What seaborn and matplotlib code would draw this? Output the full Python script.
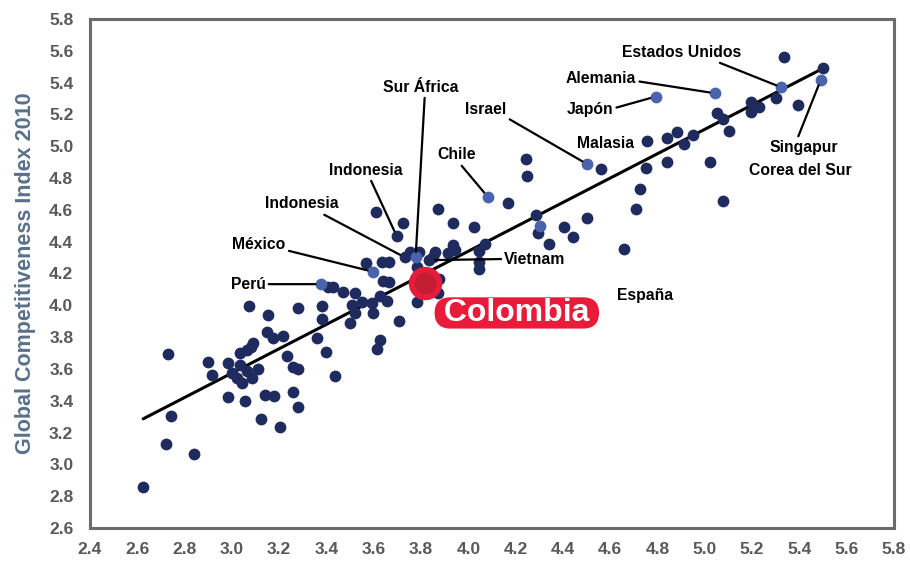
import seaborn as sns
import matplotlib.pyplot as plt
import pandas as pd
import numpy as np

# Dark points (countries without a highlighted marker)
dark_x = [2.625, 2.720, 2.742, 2.731, 2.841, 2.898, 2.917, 2.982, 2.982, 2.999,
          3.020, 3.041, 3.034, 3.063, 3.084, 3.112, 3.034, 3.063, 3.079, 3.091,
          3.055, 3.123, 3.140, 3.178, 3.203, 3.260, 3.278, 3.232, 3.260, 3.278,
          3.147, 3.175, 3.215, 3.151, 3.074, 3.281, 3.380, 3.380, 3.361, 3.398,
          3.436, 3.408, 3.429, 3.468, 3.521, 3.506, 3.549, 3.521, 3.591, 3.626,
          3.654, 3.595, 3.499, 3.708, 3.626, 3.615, 3.638, 3.666, 3.567, 3.633,
          3.666, 3.781, 3.870, 3.874, 4.046, 3.608, 3.722, 3.873, 3.937, 4.025,
          3.753, 3.791, 3.859, 3.852, 3.784, 3.937, 3.943, 3.915, 4.070, 4.046,
          4.046, 4.166, 4.242, 4.246, 4.286, 4.295, 4.341, 4.406, 4.441, 4.503,
          4.563, 4.658, 4.709, 4.728, 4.751, 4.757, 4.838, 4.838, 4.883, 4.913,
          4.951, 5.022, 5.078, 5.050, 5.075, 5.104, 5.197, 5.230, 5.197, 5.299,
          5.392, 5.334, 5.501]
dark_y = [2.855, 3.131, 3.305, 3.697, 3.064, 3.641, 3.561, 3.635, 3.425, 3.572,
          3.540, 3.513, 3.624, 3.586, 3.546, 3.599, 3.701, 3.718, 3.739, 3.760,
          3.400, 3.284, 3.435, 3.429, 3.236, 3.452, 3.362, 3.682, 3.613, 3.599,
          3.833, 3.792, 3.806, 3.938, 3.995, 3.985, 3.995, 3.911, 3.796, 3.706,
          3.555, 4.117, 4.117, 4.081, 4.075, 4.001, 4.018, 3.949, 4.012, 4.058,
          4.028, 3.949, 3.886, 3.903, 3.781, 3.725, 4.154, 4.148, 4.263, 4.270,
          4.270, 4.022, 4.075, 4.166, 4.226, 4.584, 4.515, 4.605, 4.515, 4.490,
          4.336, 4.336, 4.336, 4.301, 4.242, 4.378, 4.347, 4.326, 4.385, 4.341,
          4.274, 4.645, 4.919, 4.813, 4.567, 4.452, 4.383, 4.494, 4.427, 4.550,
          4.854, 4.352, 4.605, 4.731, 4.865, 5.035, 5.050, 4.899, 5.091, 5.012,
          5.070, 4.899, 4.657, 5.207, 5.171, 5.098, 5.280, 5.248, 5.217, 5.301,
          5.259, 5.559, 5.490]

# Dark points that carry a label
tagged_names = ["Indonesia", "Indonesia", "Vietnam"]
tagged_x = [3.697, 3.732, 3.835]
tagged_y = [4.435, 4.301, 4.284]

# Highlighted (light blue) points
light_names = ["Perú", "México", "Sur África", "Chile", "España", "Israel",
               "Japón", "Alemania", "Estados Unidos", "Singapur"]
light_x = [3.377, 3.597, 3.777, 4.082, 4.303, 4.503, 4.792, 5.043, 5.324, 5.490]
light_y = [4.133, 4.211, 4.301, 4.682, 4.496, 4.887, 5.312, 5.333, 5.370, 5.416]

colombia_x = [3.817]
colombia_y = [4.138]

x_ticks = np.arange(2.4, 5.81, 0.2)
y_ticks = np.arange(2.6, 5.81, 0.2)

NAVY = "#1f2b5e"
LIGHT = "#4a63ad"
RED = "#e81c3a"
GRAY = "#6b6b6b"

sns.set_style("white")
plt.rcParams["font.family"] = ["Liberation Sans", "DejaVu Sans"]
plt.rcParams["font.weight"] = "bold"
plt.rcParams["text.color"] = "black"

dark = pd.DataFrame({"x": dark_x + tagged_x, "y": dark_y + tagged_y})
light = pd.DataFrame({"name": light_names, "x": light_x, "y": light_y})
colombia = pd.DataFrame({"x": colombia_x, "y": colombia_y})
everything = pd.concat([dark, light[["x", "y"]], colombia], ignore_index=True)

fig = plt.figure(figsize=(9.1, 5.67), dpi=100)
ax = fig.add_axes([0.0989, 0.0688, 0.8835, 0.8977])

sns.regplot(x="x", y="y", data=everything, scatter=False, ci=None, truncate=True,
            line_kws={"color": "black", "lw": 2.2, "zorder": 2}, ax=ax)
sns.scatterplot(x="x", y="y", data=dark, color=NAVY, s=72, linewidth=0, zorder=3, ax=ax)
sns.scatterplot(x="x", y="y", data=light, color=LIGHT, s=72, linewidth=0, zorder=4, ax=ax)
sns.scatterplot(x="x", y="y", data=colombia, color=RED, s=580, linewidth=0, zorder=6, ax=ax)
sns.scatterplot(x="x", y="y", data=colombia, color="#c41d33", s=250, linewidth=0, zorder=7, ax=ax)

lp = dict(zip(light_names, zip(light_x, light_y)))
tp = list(zip(tagged_x, tagged_y))

# text, target point, text position, relpos of leader start
labels = [
    ("Estados Unidos", lp["Estados Unidos"], (4.903, 5.592), (0.75, 0.0)),
    ("Alemania", lp["Alemania"], (4.561, 5.429), (1.0, 0.3)),
    ("Japón", lp["Japón"], (4.514, 5.228), (1.0, 0.6)),
    ("Israel", lp["Israel"], (4.074, 5.228), (1.0, 0.0)),
    ("Singapur", lp["Singapur"], (5.419, 4.995), (0.4, 1.0)),
    ("Chile", lp["Chile"], (3.952, 4.945), (0.55, 0.0)),
    ("Sur África", lp["Sur África"], (3.800, 5.372), (0.55, 0.0)),
    ("Indonesia", tp[0], (3.567, 4.850), (0.55, 0.0)),
    ("Indonesia", tp[1], (3.296, 4.637), (0.72, 0.0)),
    ("México", lp["México"], (3.115, 4.385), (1.0, 0.1)),
    ("Perú", lp["Perú"], (3.068, 4.133), (1.0, 0.5)),
    ("Vietnam", tp[2], (4.282, 4.291), (0.0, 0.5)),
]
for text, xy, xytext, rel in labels:
    ax.annotate(text, xy=xy, xytext=xytext, ha="center", va="center",
                fontsize=11.3, fontweight="bold", color="black", zorder=8,
                arrowprops=dict(arrowstyle="-", color="black", lw=1.6,
                                shrinkA=0, shrinkB=4, relpos=rel))

for text, tx, ty in [("Malasia", 4.582, 5.020), ("Corea del Sur", 5.402, 4.850),
                     ("España", 4.747, 4.064)]:
    ax.text(tx, ty, text, ha="center", va="center", fontsize=11.3,
            fontweight="bold", color="black", zorder=8)
ax.text(4.205, 3.952, " Colombia ", ha="center", va="center", fontsize=23,
        fontweight="bold", color="white", zorder=9,
        bbox=dict(boxstyle="round,pad=0.02,rounding_size=0.5", fc=RED, ec="none"))

ax.set_xlim(2.4, 5.8)
ax.set_ylim(2.6, 5.8)
ax.set_xticks(x_ticks)
ax.set_yticks(y_ticks)
ax.set_xticklabels([f"{v:.1f}" for v in x_ticks])
ax.set_yticklabels([f"{v:.1f}" for v in y_ticks])
ax.tick_params(direction="in", length=6, width=1.6, color=GRAY, labelcolor="#595959",
               labelsize=12.5)
ax.tick_params(axis="x", pad=10)
ax.tick_params(axis="y", pad=12)
for lab in ax.get_xticklabels() + ax.get_yticklabels():
    lab.set_fontweight("bold")
for sp in ax.spines.values():
    sp.set_color(GRAY)
    sp.set_linewidth(2.2)
ax.set_xlabel("")
ax.set_ylabel("Global Competitiveness Index 2010", fontsize=15.5, fontweight="bold",
              color="#587089", labelpad=9)

fig.savefig("out.png", dpi=100)
